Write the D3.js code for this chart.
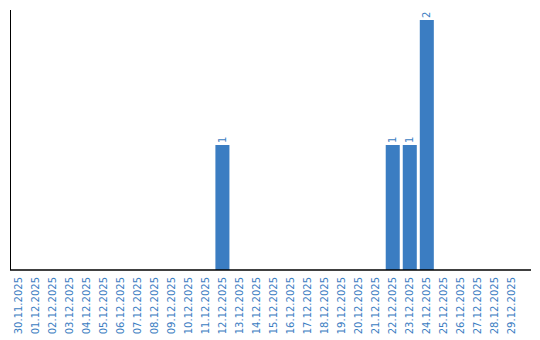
<!DOCTYPE html>
<html>
<head>
<meta charset="utf-8">
<script src="https://cdn.jsdelivr.net/npm/d3@7"></script>
<style>
  body { margin: 0; background: #fff; }
  svg { display: block; font-family: "DejaVu Sans", sans-serif; }
</style>
</head>
<body>
<svg width="540" height="340"></svg>
<script>
const dates = ['30.11.2025', '01.12.2025', '02.12.2025', '03.12.2025', '04.12.2025', '05.12.2025',
  '06.12.2025', '07.12.2025', '08.12.2025', '09.12.2025', '10.12.2025', '11.12.2025',
  '12.12.2025', '13.12.2025', '14.12.2025', '15.12.2025', '16.12.2025', '17.12.2025',
  '18.12.2025', '19.12.2025', '20.12.2025', '21.12.2025', '22.12.2025', '23.12.2025',
  '24.12.2025', '25.12.2025', '26.12.2025', '27.12.2025', '28.12.2025', '29.12.2025'];
const counts = [0, 0, 0, 0, 0, 0, 0, 0, 0, 0, 0, 0,
  1, 0, 0, 0, 0, 0, 0, 0, 0, 0, 1, 1, 2, 0, 0, 0, 0, 0];

const blue = '#3b7dc2';
const svg = d3.select('svg');

const data = dates.map((d, i) => ({ date: d, count: counts[i] }));

const x = d3.scaleBand()
  .domain(dates)
  .range([10, 520])
  .paddingInner(0.176)
  .paddingOuter(0.06);

const y = d3.scaleLinear()
  .domain([0, d3.max(counts)])
  .range([270, 20]);

// bars
svg.append('g')
  .selectAll('rect')
  .data(data.filter(d => d.count > 0))
  .enter().append('rect')
    .attr('x', d => x(d.date))
    .attr('y', d => y(d.count))
    .attr('width', x.bandwidth())
    .attr('height', d => y(0) - y(d.count))
    .attr('fill', blue);

// value labels
svg.append('g')
  .selectAll('text')
  .data(data.filter(d => d.count > 0))
  .enter().append('text')
    .attr('transform', d => `translate(${x(d.date) + x.bandwidth() / 2}, ${y(d.count) - 2}) rotate(-90)`)
    .attr('dy', '0.35em')
    .attr('fill', blue)
    .attr('font-size', 10)
    .text(d => d.count);

// x axis
const xAxis = svg.append('g')
  .attr('transform', `translate(0, ${y(0)})`)
  .call(d3.axisBottom(x).tickSize(0).tickSizeOuter(0));
xAxis.select('.domain').remove();
xAxis.append('line')
  .attr('x1', 10).attr('x2', 531)
  .attr('stroke', '#000').attr('stroke-width', 1.5);
xAxis.selectAll('.tick text')
  .attr('transform', 'rotate(-90)')
  .attr('text-anchor', 'end')
  .attr('x', -7)
  .attr('y', 0)
  .attr('dy', '0.35em')
  .attr('fill', blue)
  .attr('font-size', 10)
  .attr('font-family', '"DejaVu Sans", sans-serif');

// y axis line
svg.append('line')
  .attr('x1', 10.5).attr('x2', 10.5)
  .attr('y1', 10).attr('y2', 270)
  .attr('stroke', '#000').attr('stroke-width', 1);
</script>
</body>
</html>
